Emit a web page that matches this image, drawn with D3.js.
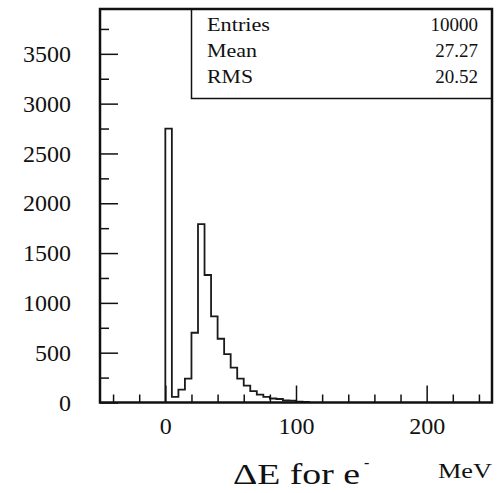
<!DOCTYPE html>
<html>
<head>
<meta charset="utf-8">
<script src="https://cdnjs.cloudflare.com/ajax/libs/d3/7.8.5/d3.min.js"></script>
<style>
  body { margin: 0; background: #fff; }
  text { font-family: "Liberation Serif", "Times New Roman", serif; fill: #111; }
</style>
</head>
<body>
<div id="content"></div>
<script>
// histogram: lower bin edges (MeV) and counts, bin width 5 MeV
var binLow = [0, 5, 10, 15, 20, 25, 30, 35, 40, 45, 50, 55, 60, 65, 70, 75, 80, 85, 90, 95, 100, 105];
var counts = [2750, 57, 130, 240, 700, 1790, 1280, 865, 640, 485, 350, 240, 170, 115, 80, 57, 40, 35, 20, 18, 8, 5];
var binWidth = 5;

var xMajor = [0, 100, 200];
var xMinor = [-40, -20, 20, 40, 60, 80, 120, 140, 160, 180, 220, 240];
var yMajor = [0, 500, 1000, 1500, 2000, 2500, 3000, 3500];
var yMinor = [250, 750, 1250, 1750, 2250, 2750, 3250, 3750];

var statNames = ['Entries', 'Mean', 'RMS'];
var statValues = ['10000', '27.27', '20.52'];
var statWidths = [63, 50, 46];

var width = 499;
var height = 493;
var padL = 100, padR = 492, padT = 9, padB = 402.5;

var svg = d3.select('#content').append('svg')
  .attr('width', width).attr('height', height);

var x = d3.scaleLinear().domain([-50, 250]).range([padL, padR]);
var y = d3.scaleLinear().domain([0, 3950]).range([padB, padT]);

// histogram outline
var pts = [[x(binLow[0]), y(0)]];
binLow.forEach(function(lo, i) {
  pts.push([x(lo), y(counts[i])]);
  pts.push([x(lo + binWidth), y(counts[i])]);
});
pts.push([x(binLow[binLow.length - 1] + binWidth), y(0)]);

svg.append('path')
  .attr('d', d3.line()(pts))
  .style('fill', 'none')
  .style('stroke', '#1a1a1a')
  .style('stroke-width', 1.8);

// axes (ticks point inward)
svg.append('g')
  .attr('transform', 'translate(' + padL + ',0)')
  .call(d3.axisLeft(y).tickValues(yMajor).tickSize(-18).tickPadding(29).tickFormat(d3.format('d')));
svg.append('g')
  .attr('transform', 'translate(' + padL + ',0)')
  .call(d3.axisLeft(y).tickValues(yMinor).tickSize(-9).tickFormat(''));

svg.append('g')
  .attr('transform', 'translate(0,' + padB + ')')
  .call(d3.axisBottom(x).tickValues(xMajor).tickSize(-17).tickPadding(14).tickFormat(d3.format('d')));
svg.append('g')
  .attr('transform', 'translate(0,' + padB + ')')
  .call(d3.axisBottom(x).tickValues(xMinor).tickSize(-8).tickFormat(''));

svg.selectAll('.domain').remove();
svg.selectAll('.tick line').style('stroke', '#111').style('stroke-width', 1.5);
svg.selectAll('.tick text')
  .style('font-family', '"Liberation Serif", serif')
  .style('font-size', '24px')
  .style('fill', '#111');

// frame
svg.append('rect')
  .attr('x', padL).attr('y', padT)
  .attr('width', padR - padL).attr('height', padB - padT)
  .style('fill', 'none').style('stroke', '#111').style('stroke-width', 2.5);

// stats box
svg.append('rect')
  .attr('x', 191.5).attr('y', padT)
  .attr('width', padR - 191.5).attr('height', 98.5 - padT)
  .style('fill', 'none').style('stroke', '#111').style('stroke-width', 1.5);

var stats = svg.selectAll('.stat').data(statNames).enter().append('g').attr('class', 'stat');
stats.append('text')
  .attr('x', 207)
  .attr('y', function(d, i) { return 31 + i * 26; })
  .attr('textLength', function(d, i) { return statWidths[i]; })
  .attr('lengthAdjust', 'spacingAndGlyphs')
  .style('font-size', '19px')
  .text(function(d) { return d; });
stats.append('text')
  .attr('x', 478)
  .attr('y', function(d, i) { return 31 + i * 26; })
  .style('font-size', '19px')
  .style('text-anchor', 'end')
  .text(function(d, i) { return statValues[i]; });

// axis title
svg.append('text')
  .attr('x', 233).attr('y', 484)
  .attr('textLength', 127)
  .attr('lengthAdjust', 'spacingAndGlyphs')
  .style('font-size', '30px')
  .text('\u0394E for e');
svg.append('text')
  .attr('x', 364).attr('y', 468)
  .style('font-size', '16px')
  .text('-');

svg.append('text')
  .attr('x', 438).attr('y', 478)
  .attr('textLength', 54)
  .attr('lengthAdjust', 'spacingAndGlyphs')
  .style('font-size', '22px')
  .text('MeV');
</script>
</body>
</html>
